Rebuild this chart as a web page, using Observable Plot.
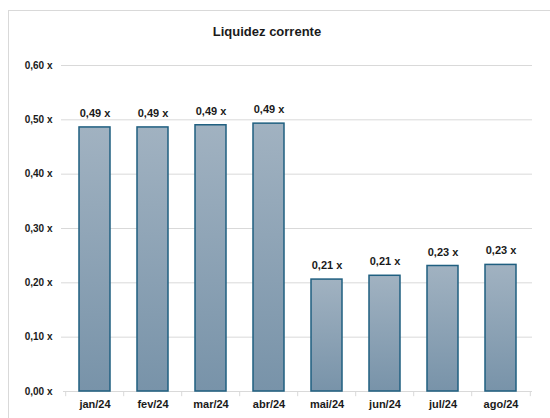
<!DOCTYPE html>
<html><head><meta charset="utf-8">
<script src="https://cdn.jsdelivr.net/npm/d3@7"></script>
<script src="https://cdn.jsdelivr.net/npm/@observablehq/plot@0.6"></script>
<style>
body{margin:0;background:#fff;font-family:"Liberation Sans",Arial,sans-serif;}
#wrap{position:relative;width:550px;height:418px;overflow:hidden;}
#frame{position:absolute;left:8px;top:10px;width:560px;height:430px;border:1px solid #d9d9d9;box-sizing:border-box;}
#title{position:absolute;left:167px;width:200px;top:24px;text-align:center;font-weight:bold;font-size:13px;color:#1a1a1a;}
#chart{position:absolute;left:0;top:50px;}
</style></head>
<body>
<div id="wrap"><div id="frame"></div><div id="title">Liquidez corrente</div><div id="chart"></div></div>
<script>
const months = ["jan/24","fev/24","mar/24","abr/24","mai/24","jun/24","jul/24","ago/24"];
const values = [0.486,0.486,0.490,0.493,0.206,0.213,0.231,0.233];
const yTicks = [0,0.1,0.2,0.3,0.4,0.5,0.6];

const data = months.map((m,i)=>({month:m, value:values[i]}));
const fmt = v => v.toFixed(2).replace(".",",") + " x";
const last = months[months.length-1];

const chart = Plot.plot({
  width:550, height:368,
  marginTop:15, marginBottom:27, marginLeft:63, marginRight:18,
  style:{fontFamily:"Liberation Sans, Arial, sans-serif", color:"#1a1a1a", background:"transparent"},
  x:{domain:months, paddingInner:0.47, paddingOuter:0.235, label:null},
  y:{domain:[0,0.6], label:null},
  marks:[
    Plot.ruleY(yTicks.filter(d=>d>0), {stroke:"#d9d9d9", strokeWidth:1, insetLeft:-2}),
    Plot.ruleY([0], {stroke:"#d9d9d9", strokeWidth:1}),
    Plot.ruleX(months, {x:d=>d, y1:0, y2:-0.0095, dx:-29.3, stroke:"#d9d9d9"}),
    Plot.ruleX([last], {x:d=>d, y1:0, y2:-0.0095, dx:29.3, stroke:"#d9d9d9"}),
    Plot.barY(data, {x:"month", y:"value", fill:"url(#barGrad)", stroke:"#1f5f80", strokeWidth:1.5}),
    Plot.text(data, {x:"month", y:"value", text:d=>fmt(d.value), dy:-14, fontWeight:"bold", fontSize:11, fill:"#1a1a1a"}),
    Plot.axisY({ticks:yTicks, tickSize:0, tickPadding:11, tickFormat:fmt, fontWeight:"bold", fontSize:10}),
    Plot.axisX({tickSize:0, tickPadding:9, fontWeight:"bold", fontSize:11})
  ]
});
const ns = "http://www.w3.org/2000/svg";
const defs = document.createElementNS(ns,"defs");
defs.innerHTML = '<linearGradient id="barGrad" x1="0" y1="0" x2="0" y2="1"><stop offset="0" stop-color="#a1b2c1"/><stop offset="1" stop-color="#7893a9"/></linearGradient>';
chart.insertBefore(defs, chart.firstChild);
document.getElementById("chart").appendChild(chart);
</script>
</body></html>
